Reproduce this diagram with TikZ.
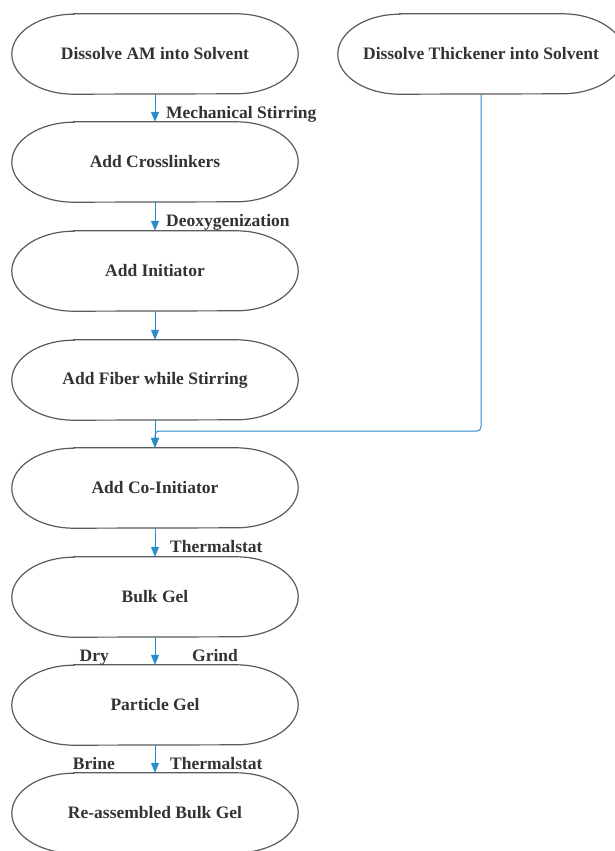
\documentclass[tikz,border=0pt]{standalone}
\usepackage{fontspec}
\setmainfont{Liberation Serif}
\usetikzlibrary{positioning,calc,arrows.meta}
\definecolor{txtgray}{HTML}{333333}
\definecolor{boxgray}{HTML}{5A5A5A}
\definecolor{flowblue}{HTML}{2B8CCB}
\tikzset{
    gelflow/.style={
        x=1pt, y=1pt,
        % Stile per i passi (stadio)
        stepbox/.style={rectangle, align=center,
                        minimum width=286pt, minimum height=80pt,
                        inner sep=0pt, text=txtgray,
                        font=\fontsize{17.5}{21}\selectfont\bfseries},
        % Contorno dei passi
        outline/.style={draw=boxgray, line width=1.2pt},
        % Frecce
        flow/.style={draw=flowblue, line width=1pt,
                     -{Triangle[length=10pt,width=8pt]}},
        % Etichette
        steplabel/.style={text=txtgray, inner sep=0pt,
                          font=\fontsize{17.5}{21}\selectfont\bfseries}
    }
}
\begin{document}
\begin{tikzpicture}[gelflow]
  \useasboundingbox (0,0) rectangle (614,-851);
  % Nodi
  \node[stepbox] (amsol)    at (155,-54)  {Dissolve AM into Solvent};
  \node[stepbox] (cross)    at (155,-162) {Add Crosslinkers};
  \node[stepbox] (init)     at (155,-271) {Add Initiator};
  \node[stepbox] (fiber)    at (155,-380) {Add Fiber while Stirring};
  \node[stepbox] (coinit)   at (155,-488) {Add Co-Initiator};
  \node[stepbox] (bulk)     at (155,-597) {Bulk Gel};
  \node[stepbox] (particle) at (155,-705) {Particle Gel};
  \node[stepbox] (reasm)    at (155,-813) {Re-assembled Bulk Gel};
  \node[stepbox] (thick)    at (481,-54)  {Dissolve Thickener into Solvent};
  \coordinate (join) at (155,-431);

  \foreach \n in {amsol,cross,init,fiber,coinit,bulk,particle,reasm,thick}
    \draw[outline] ([xshift=62pt]\n.north west) -- ([xshift=-62pt]\n.north east)
      arc[start angle=90, end angle=-90, x radius=62pt, y radius=40pt]
      -- ([xshift=62pt]\n.south west)
      arc[start angle=270, end angle=90, x radius=62pt, y radius=40pt] -- cycle;

  \draw[flow] (amsol) -- (cross);
  \draw[flow] (cross) -- (init);
  \draw[flow] (init) -- (fiber);
  \draw[flow] (fiber) -- (coinit);
  \draw[flow, rounded corners=4pt] (thick) |- (join) -- (coinit);
  \draw[flow] (coinit) -- (bulk);
  \draw[flow] (bulk) -- (particle);
  \draw[flow] (particle) -- (reasm);

  \node[steplabel, anchor=base west] (stir) at ($(amsol.south)!0.5!(cross.north)+(11,-10)$) {Mechanical Stirring};
  \node[steplabel, anchor=base west] (deox) at ($(cross.south)!0.5!(init.north)+(11,-10)$) {Deoxygenization};
  \node[steplabel, anchor=base west] (therm) at ($(coinit.south)!0.5!(bulk.north)+(15,-10)$) {Thermalstat};
  \node[steplabel, anchor=base east] (dry) at ($(bulk.south)!0.5!(particle.north)+(-46,-10)$) {Dry};
  \node[steplabel, anchor=base west] (grind) at ($(bulk.south)!0.5!(particle.north)+(37,-10)$) {Grind};
  \node[steplabel, anchor=base east] (brine) at ($(particle.south)!0.5!(reasm.north)+(-40,-10)$) {Brine};
  \node[steplabel, anchor=base west] (thermb) at ($(particle.south)!0.5!(reasm.north)+(15,-10)$) {Thermalstat};
\end{tikzpicture}
\end{document}
